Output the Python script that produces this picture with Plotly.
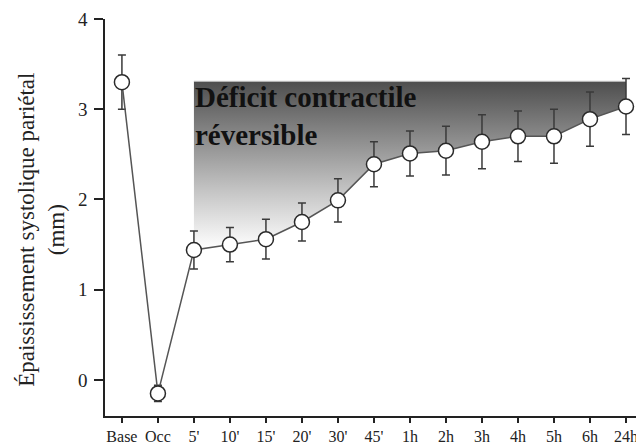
import plotly.graph_objects as go

# ---- data ----
categories = ["Base", "Occ", "5'", "10'", "15'", "20'", "30'", "45'",
              "1h", "2h", "3h", "4h", "5h", "6h", "24h"]
thickening = [3.30, -0.15, 1.44, 1.50, 1.56, 1.75, 1.99, 2.39,
              2.51, 2.54, 2.64, 2.70, 2.70, 2.89, 3.03]
sem = [0.30, 0.09, 0.21, 0.19, 0.22, 0.21, 0.24, 0.25,
       0.25, 0.27, 0.30, 0.28, 0.30, 0.30, 0.31]
deficit_start = 2          # index of first reperfusion point (5')
baseline_level = 3.31      # level of shaded deficit ceiling
y_ticks = [0, 1, 2, 3, 4]
annotation_text = "<b>Déficit contractile<br>réversible</b>"
y_title = "Épaississement systolique pariétal<br>(mm)"

FONT = "Liberation Serif"
OFF = 8  # page body margin offset

fig = go.Figure()

# shaded reversible deficit: ceiling line, then data line filled to it
rep_x = categories[deficit_start:]
rep_y = thickening[deficit_start:]
fig.add_trace(go.Scatter(
    x=rep_x, y=[baseline_level] * len(rep_x), mode="lines",
    line=dict(color="#c8c8c8", width=1), hoverinfo="skip", showlegend=False))
fig.add_trace(go.Scatter(
    x=rep_x, y=rep_y, mode="lines", line=dict(width=0, color="rgba(0,0,0,0)"),
    fill="tonexty",
    fillgradient=dict(type="vertical", start=1.45, stop=baseline_level,
                      colorscale=[[0, "#ffffff"], [0.35, "#c4c4c4"], [1, "#4e4e4e"]]),
    hoverinfo="skip", showlegend=False))

# main series
fig.add_trace(go.Scatter(
    x=categories, y=thickening, mode="lines+markers",
    line=dict(color="#555555", width=1.5),
    marker=dict(size=15, color="white", line=dict(color="#2a2a2a", width=1.5)),
    error_y=dict(type="data", array=sem, visible=True, color="#3a3a3a",
                 thickness=1.5, width=4),
    showlegend=False))

fig.add_annotation(
    x=deficit_start, y=baseline_level, xref="x", yref="y",
    xanchor="left", yanchor="top", xshift=-1, yshift=2,
    text=annotation_text, showarrow=False, align="left",
    font=dict(family=FONT, size=29, color="#111111"))

fig.add_annotation(
    xref="paper", yref="paper", x=-0.118, y=0.47,
    xanchor="center", yanchor="middle", textangle=-90,
    text=y_title, showarrow=False,
    font=dict(family=FONT, size=23, color="#222222"))

fig.update_layout(
    width=644 - OFF, height=444 - OFF,
    margin=dict(l=105 - OFF, r=0, t=19 - OFF, b=28),
    paper_bgcolor="white", plot_bgcolor="white",
    font=dict(family=FONT, color="#222222"),
    showlegend=False,
)
fig.update_xaxes(
    type="category", categoryorder="array", categoryarray=categories,
    range=[-0.47, 14.5], automargin=False,
    showline=True, linecolor="#222222", linewidth=1.5,
    ticks="outside", ticklen=5, tickwidth=1.5, tickcolor="#222222",
    ticklabelstandoff=0,
    tickfont=dict(family=FONT, size=16, color="#222222"),
    showgrid=False, zeroline=False)
fig.update_yaxes(
    range=[-0.4, 4.0], tickvals=y_ticks, automargin=False,
    showline=True, linecolor="#222222", linewidth=1.5,
    ticks="outside", ticklen=9, tickwidth=1.5, tickcolor="#222222",
    ticklabelstandoff=3,
    tickfont=dict(family=FONT, size=19, color="#222222"),
    showgrid=False, zeroline=False)

fig.write_html("out.html")
